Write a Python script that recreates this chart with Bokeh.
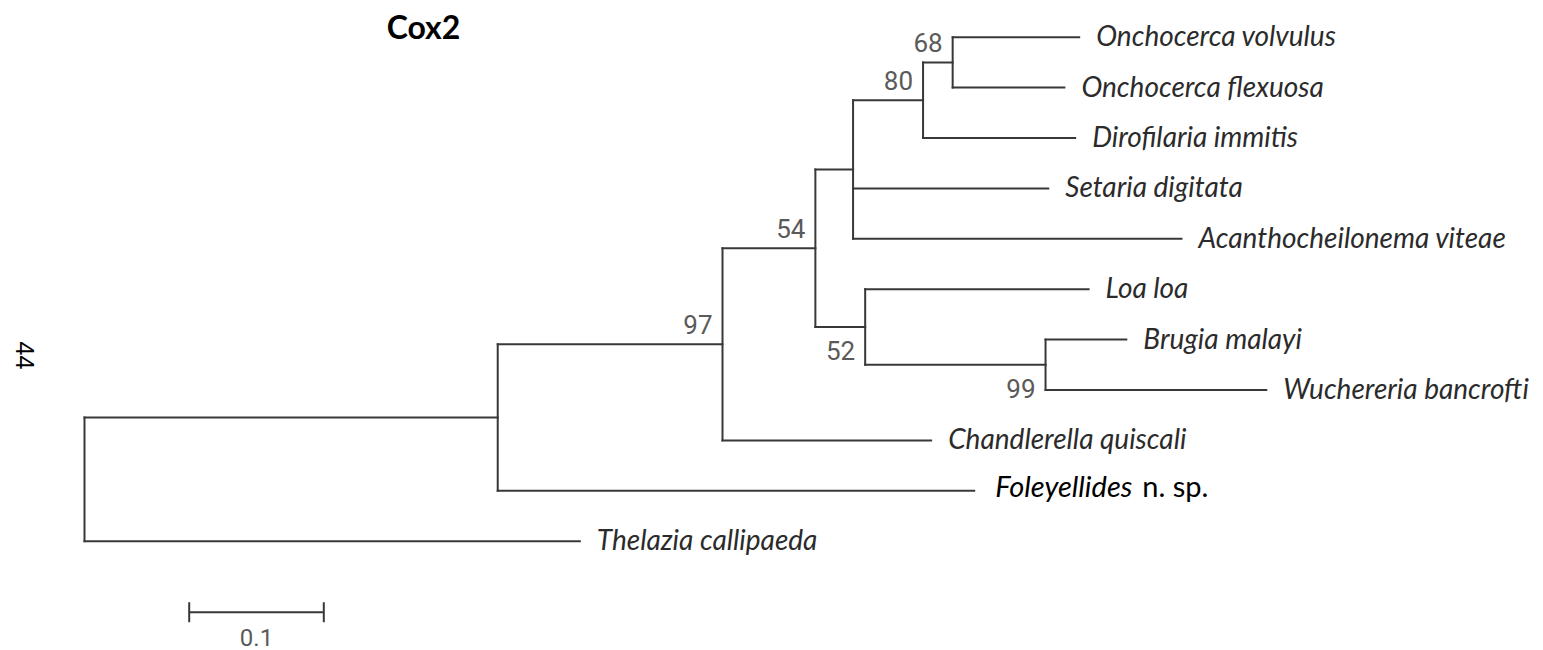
import math
from bokeh.plotting import figure
from bokeh.models import Range1d, Label
from bokeh.core.properties import value
from bokeh.embed import file_html
from bokeh.resources import INLINE

# ---------------- data ----------------
title_text = "Cox2"
side_text = "44"

# tips from top to bottom
tip_order = [
    "Onchocerca volvulus",
    "Onchocerca flexuosa",
    "Dirofilaria immitis",
    "Setaria digitata",
    "Acanthocheilonema viteae",
    "Loa loa",
    "Brugia malayi",
    "Wuchereria bancrofti",
    "Chandlerella quiscali",
    "Foleyellides n. sp.",
    "Thelazia callipaeda",
]

# tree edges (child, parent, branch length in substitutions/site)
edge_child = ["nB", "Thelazia callipaeda",
              "n97", "Foleyellides n. sp.",
              "n54", "Chandlerella quiscali",
              "nD", "n52",
              "n80", "Setaria digitata", "Acanthocheilonema viteae",
              "n68", "Dirofilaria immitis",
              "Onchocerca volvulus", "Onchocerca flexuosa",
              "Loa loa", "n99",
              "Brugia malayi", "Wuchereria bancrofti"]
edge_parent = ["root", "root",
               "nB", "nB",
               "n97", "n97",
               "n54", "n54",
               "nD", "nD", "nD",
               "n80", "n80",
               "n68", "n68",
               "n52", "n52",
               "n99", "n99"]
branch_length = [0.307, 0.368,
                 0.167, 0.354,
                 0.069, 0.155,
                 0.028, 0.037,
                 0.052, 0.145, 0.244,
                 0.022, 0.113,
                 0.094, 0.083,
                 0.166, 0.134,
                 0.060, 0.164]

# bootstrap support
support_node = ["n68", "n80", "n54", "n97", "n52", "n99"]
support_value = [68, 80, 54, 97, 52, 99]

scale_bar_length = 0.1
scale_bar_label = "0.1"

# ---------------- layout / style ----------------
support_side = ["above", "above", "above", "above", "below", "below"]
W, H = 1543, 650
ROOT_PX = 84.0          # page x of the root
PX_PER_UNIT = 1346.0    # 0.1 = 134.6 px
TIP0_PY = 36.7          # page y of first tip
TIP_STEP = 50.4         # px between tips

x_start = (0 - ROOT_PX) / PX_PER_UNIT
x_end = x_start + W / PX_PER_UNIT
y_top = (0 - TIP0_PY) / TIP_STEP
y_bot = y_top + H / TIP_STEP


def dx(px):
    return px / PX_PER_UNIT


def dy(py):
    return py / TIP_STEP


def page_x(px):
    return (px - ROOT_PX) / PX_PER_UNIT


def page_y(py):
    return (py - TIP0_PY) / TIP_STEP


BRANCH = "#383838"
TIPCOL = "#2b2b2b"
SUPCOL = "#5a5a5a"

# ---------------- tree geometry ----------------
parent_of = dict(zip(edge_child, edge_parent))
blen = dict(zip(edge_child, branch_length))
children = {}
for c, pa in zip(edge_child, edge_parent):
    children.setdefault(pa, []).append(c)


def depth(n):
    return 0.0 if n not in parent_of else depth(parent_of[n]) + blen[n]


ypos = {t: float(i) for i, t in enumerate(tip_order)}


def gety(n):
    if n in ypos:
        return ypos[n]
    ys = [gety(c) for c in children[n]]
    ypos[n] = (min(ys) + max(ys)) / 2.0
    return ypos[n]


hx0, hx1, hy = [], [], []
for c, pa in zip(edge_child, edge_parent):
    hx0.append(depth(pa))
    hx1.append(depth(c))
    hy.append(gety(c))

vx, vy0, vy1 = [], [], []
for n, ch in children.items():
    ys = [gety(c) for c in ch]
    vx.append(depth(n))
    vy0.append(min(ys))
    vy1.append(max(ys))

p = figure(width=W, height=H,
           x_range=Range1d(x_start, x_end),
           y_range=Range1d(y_bot, y_top),
           output_backend="svg", toolbar_location=None,
           title_location=None,
           x_axis_location=None, y_axis_location=None,
           min_border=0, min_border_left=0, min_border_right=0,
           min_border_top=0, min_border_bottom=0,
           outline_line_color=None,
           background_fill_color="white", border_fill_color="white")
p.grid.visible = False

p.segment(x0=hx0, y0=hy, x1=hx1, y1=hy, line_color=BRANCH, line_width=2,
          line_cap="square")
p.segment(x0=vx, y0=vy0, x1=vx, y1=vy1, line_color=BRANCH, line_width=2,
          line_cap="square")

# tip labels
it_x, it_y, it_t = [], [], []
for t in tip_order:
    if t.endswith(" n. sp."):
        continue
    it_x.append(depth(t) + dx(17))
    it_y.append(gety(t) - dy(2))
    it_t.append(t)
p.text(x=it_x, y=it_y, text=it_t, text_font=value("Lato"),
       text_font_style="italic", text_font_size="28px", text_color=TIPCOL,
       text_align="left", text_baseline="middle")

for t in tip_order:
    if t.endswith(" n. sp."):
        genus = t[:-len(" n. sp.")]
        p.text(x=[depth(t) + dx(21)], y=[gety(t) - dy(5)], text=[genus],
               text_font=value("Lato"), text_font_style="italic",
               text_font_size="29px", text_color="black",
               text_align="left", text_baseline="middle")
        p.text(x=[depth(t) + dx(168)], y=[gety(t) - dy(5)], text=["n. sp."],
               text_font=value("Lato"), text_font_style="normal",
               text_font_size="29px", text_color="black",
               text_align="left", text_baseline="middle")

# support values
sx, sy, st = [], [], []
for n, v, side in zip(support_node, support_value, support_side):
    sx.append(depth(n) - dx(10))
    if side == "above":
        sy.append(gety(n) - dy(19.5))
    else:
        sy.append(gety(n) + dy(23.5))
    st.append(str(v))
p.text(x=sx, y=sy, text=st, text_font=value("Roboto"),
       text_font_size="26px", text_color=SUPCOL,
       text_align="right", text_baseline="middle")

# scale bar
sb_x0 = page_x(188.7)
sb_x1 = sb_x0 + scale_bar_length
sb_y = page_y(611.7)
p.segment(x0=[sb_x0, sb_x0, sb_x1], y0=[sb_y, sb_y - dy(10), sb_y - dy(10)],
          x1=[sb_x1, sb_x0, sb_x1], y1=[sb_y, sb_y + dy(10), sb_y + dy(10)],
          line_color=BRANCH, line_width=2)
p.text(x=[(sb_x0 + sb_x1) / 2], y=[page_y(636.5)], text=[scale_bar_label],
       text_font=value("Roboto"), text_font_size="24px", text_color=SUPCOL,
       text_align="center", text_baseline="middle")

# title and side number
p.add_layout(Label(x=423, y=H - 26, x_units="screen",
                   y_units="screen", text=title_text, text_font="Lato",
                   text_font_style="bold", text_font_size="32px",
                   text_color="black", text_align="center",
                   text_baseline="middle"))
p.add_layout(Label(x=24, y=H - 355, x_units="screen",
                   y_units="screen", text=side_text, text_font="Liberation Sans",
                   text_font_size="25px", text_color="black",
                   angle=-math.pi / 2, text_align="center",
                   text_baseline="middle"))

open("out.html", "w").write(file_html(p, INLINE))
